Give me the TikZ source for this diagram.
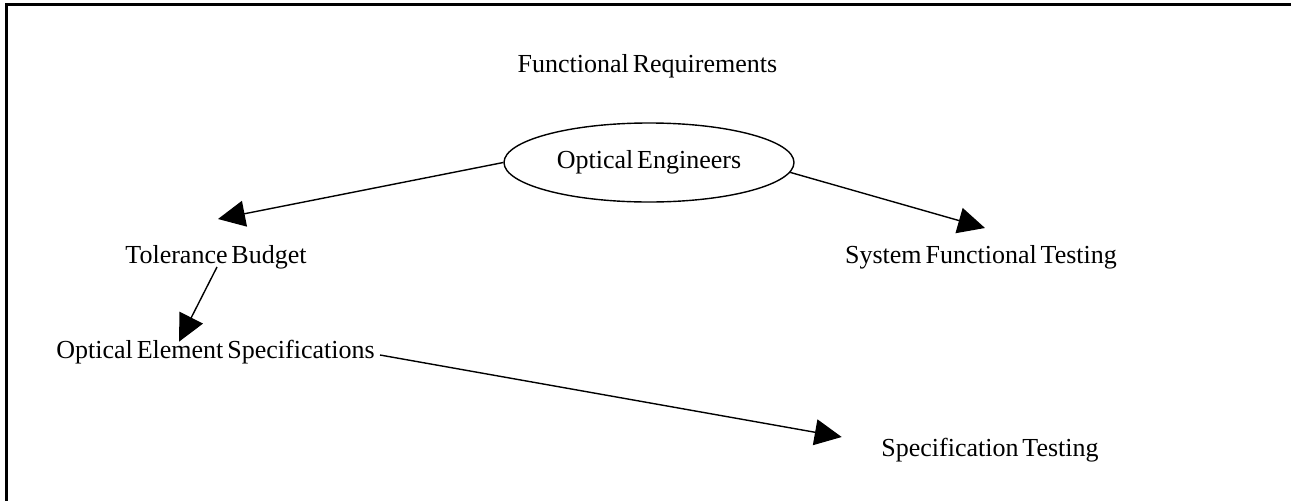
\documentclass[tikz,border=0pt]{standalone}
\usepackage{fontspec}
\setmainfont{Liberation Serif}
\usetikzlibrary{arrows.meta,shapes.geometric}
\newcommand\dfont{\fontsize{26}{30}\selectfont\spaceskip=0.15em\relax}
\tikzset{
  lbl/.style={font=\dfont, inner sep=0pt, anchor=base},
  ovalbox/.style={ellipse, draw, line width=1.4pt, minimum width=290pt, minimum height=79pt, inner sep=0pt, font=\dfont},
  conn/.style={line width=1.4pt, -{Triangle[length=27pt,width=26pt]}},
  frame/.style={line width=3pt}
}
\begin{document}
\begin{tikzpicture}[x=1pt,y=-1pt]
\useasboundingbox (0,0) rectangle (1291,501);
\draw[frame] (1291,4.5) -- (6,4.5) -- (6,501);
\node[lbl] (fr) at (647.5,72) {Functional Requirements};
\node[ovalbox] (oe) at (649,162.5) {Optical Engineers};
\node[lbl] (tb) at (216,263) {Tolerance Budget};
\node[lbl] (sft) at (981,263) {System Functional Testing};
\node[lbl] (oes) at (215.5,358) {Optical Element Specifications};
\node[lbl] (st) at (990,456) {Specification Testing};
\draw[conn] (oe.west) -- ([shift={(2,-44)}]tb.base);
\draw[conn] (oe.-4) -- ([shift={(4,-35)}]sft.base);
\draw[conn] ([shift={(1,4)}]tb.base) -- ([shift={(-36.5,-16.3)}]oes.base);
\draw[conn] ([shift={(164.5,-3)}]oes.base) -- ([shift={(-148.3,-19)}]st.base);
\end{tikzpicture}
\end{document}
